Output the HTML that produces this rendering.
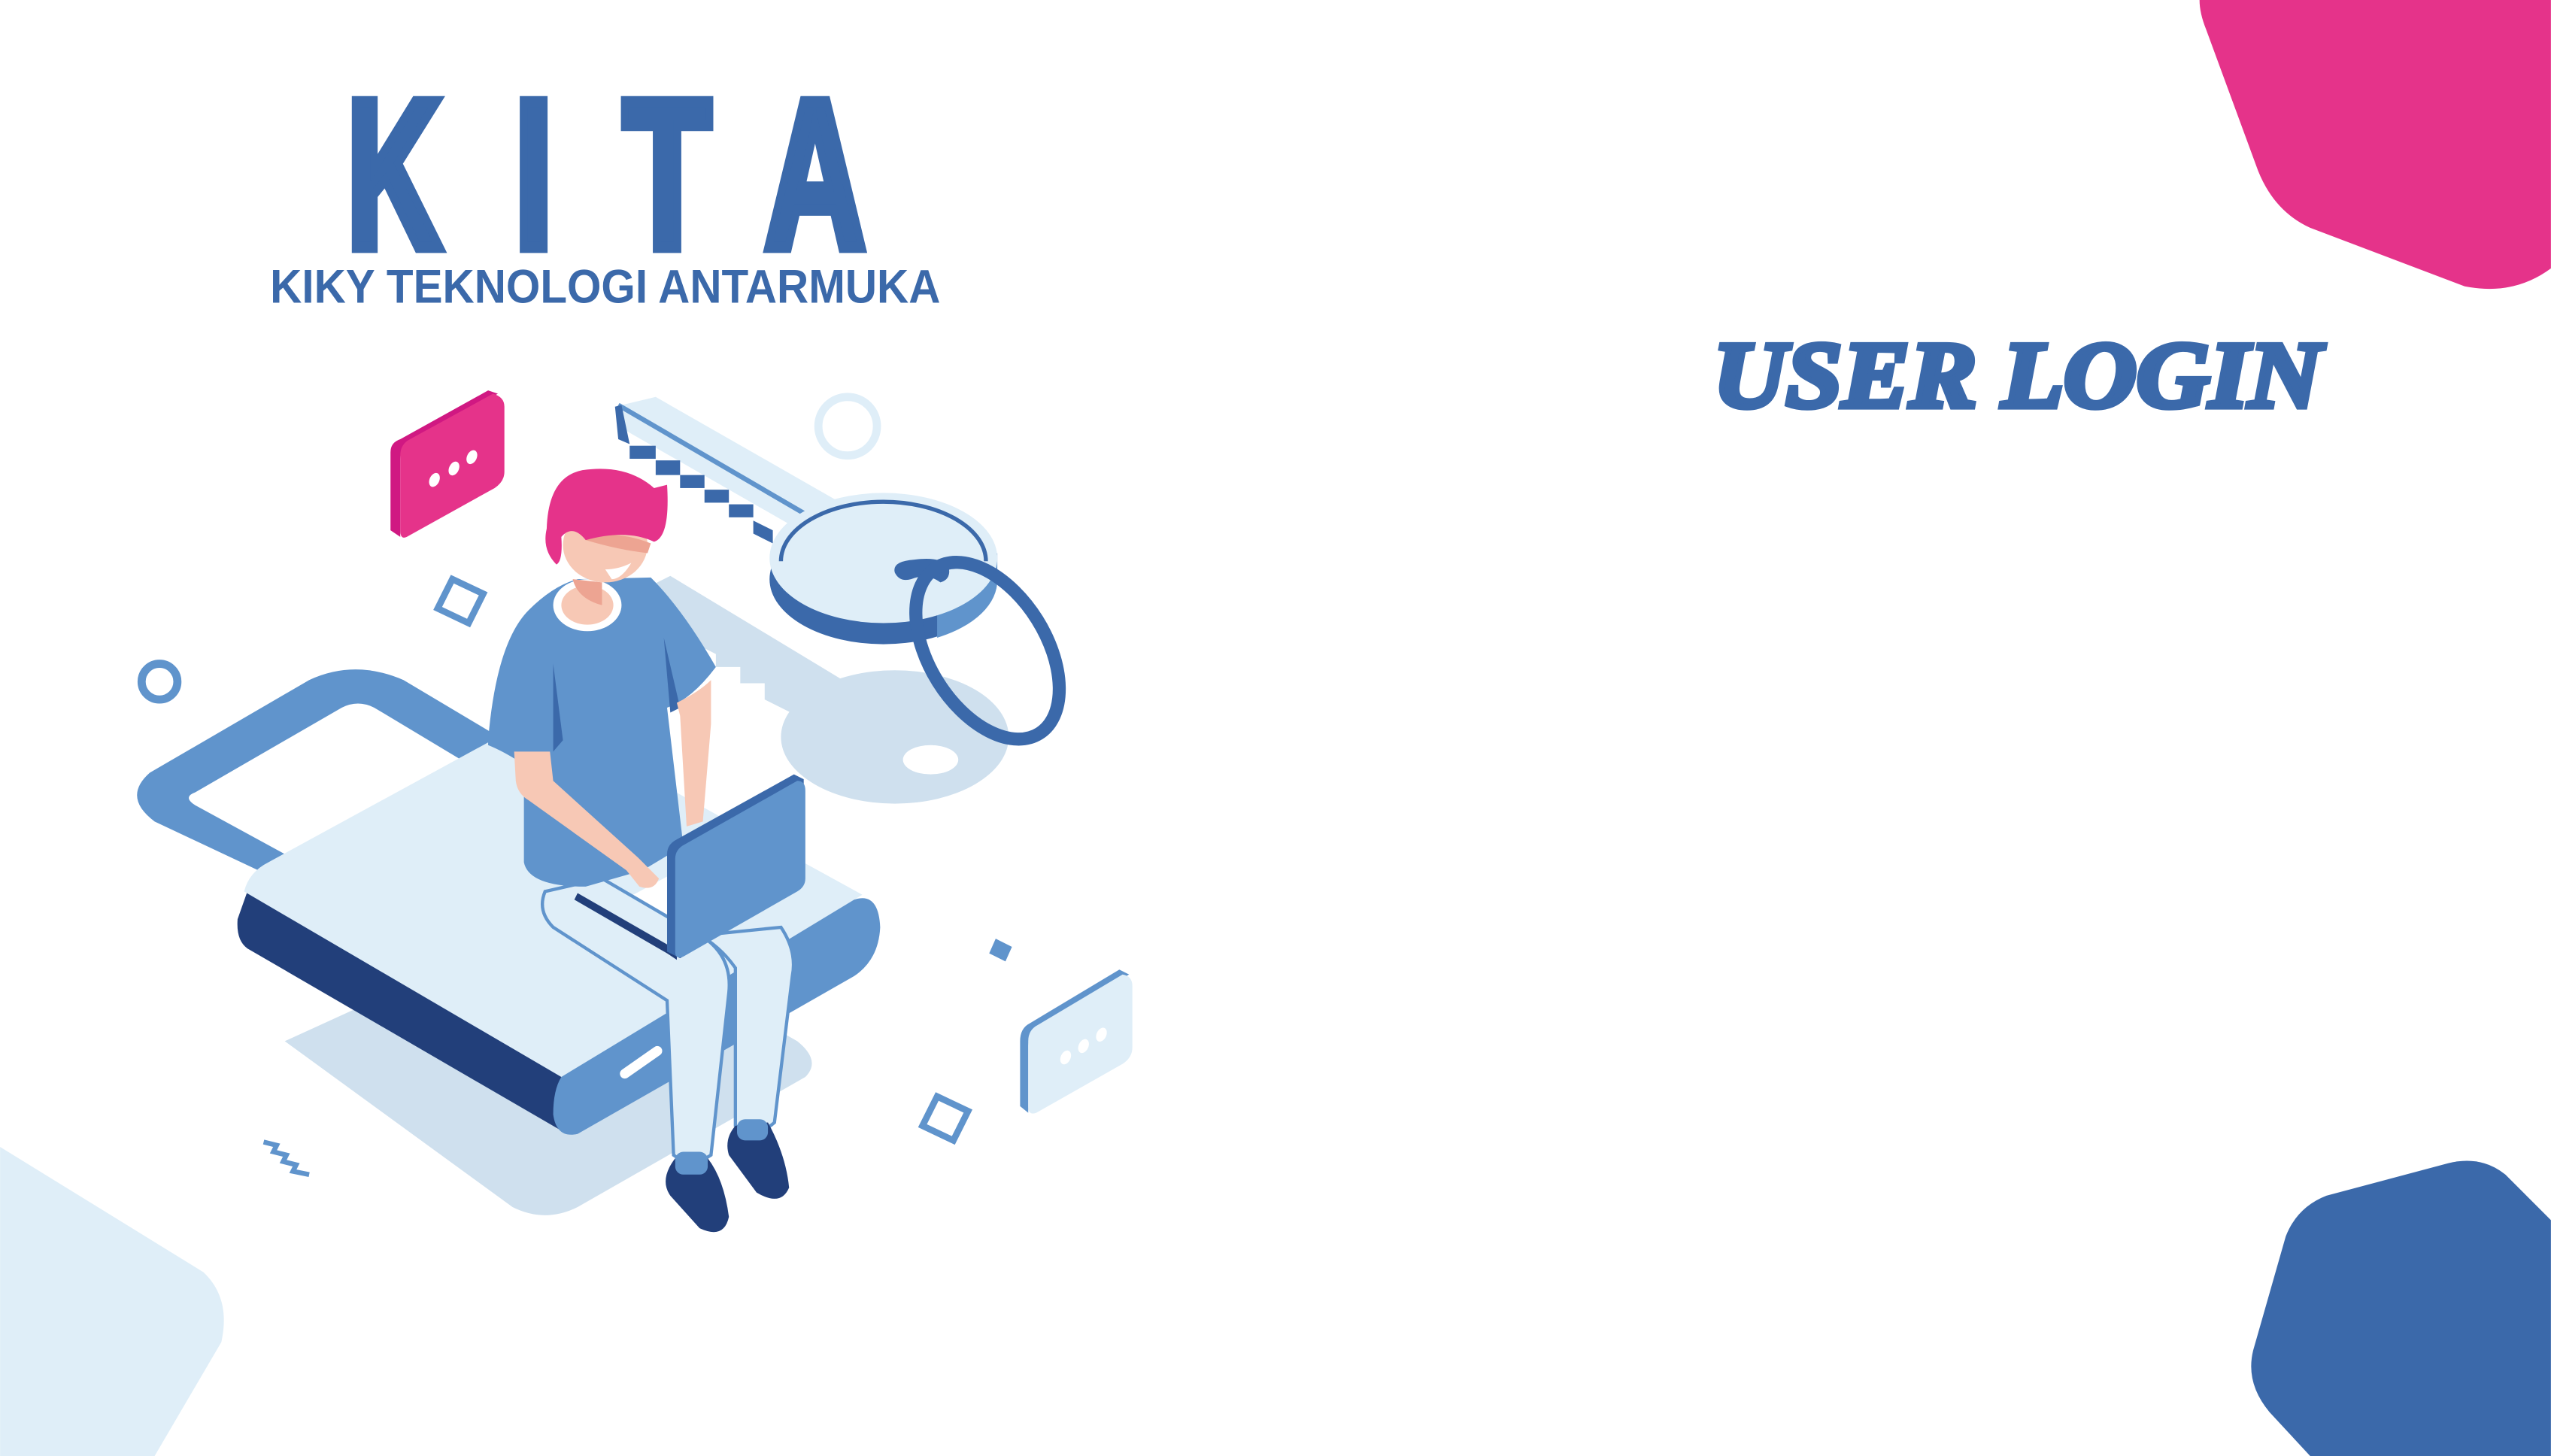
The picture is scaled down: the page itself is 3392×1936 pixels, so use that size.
<!DOCTYPE html>
<html><head><meta charset="utf-8"><style>html,body{margin:0;padding:0;background:#fff}svg{display:block}</style></head>
<body>
<svg width="3392" height="1936" viewBox="0 0 1568 895" xmlns="http://www.w3.org/2000/svg">
<rect width="1568" height="895" fill="#fff"/>
<path d="M1352,0 L1568,0 L1568,165 Q1545,182 1515,176 L1420,140 Q1398,130 1388,105 L1356,18 Q1352,8 1352,0 Z" fill="#e5338a"/>
<path d="M1568,750 L1540,722 Q1525,710 1505,715 L1430,735 Q1412,742 1405,760 L1385,830 Q1380,850 1395,868 L1420,895 L1568,895 Z" fill="#3b69aa"/>
<path d="M0,705 L125,782 Q142,798 136,825 L95,895 L0,895 Z" fill="#dfeef8"/>

<g font-family="'Liberation Sans', sans-serif" font-weight="bold" fill="#3b69aa" stroke="#3b69aa" stroke-width="7" stroke-linejoin="miter">
<text x="213" y="152" font-size="130" textLength="58" lengthAdjust="spacingAndGlyphs">K</text>
<text x="316" y="152" font-size="130" textLength="24" lengthAdjust="spacingAndGlyphs">I</text>
<text x="383" y="152" font-size="130" textLength="54" lengthAdjust="spacingAndGlyphs">T</text>
<text x="470" y="152" font-size="130" textLength="62" lengthAdjust="spacingAndGlyphs">A</text>
</g>
<text x="166" y="186" font-family="'Liberation Sans', sans-serif" font-weight="bold" fill="#3b69aa" font-size="29" textLength="412" lengthAdjust="spacingAndGlyphs">KIKY TEKNOLOGI ANTARMUKA</text>
<text x="1053" y="250" font-family="'Liberation Serif', serif" font-weight="bold" font-style="italic" font-size="58" fill="#3b69aa" stroke="#3b69aa" stroke-width="3.5" textLength="374" lengthAdjust="spacingAndGlyphs">USER LOGIN</text>

<path d="M175,640 L315,742 Q335,752 355,742 L495,662 Q505,652 490,640 L350,560 Z" fill="#cfe0ee"/>
<polygon points="400,360 412,354 518,418 490,440 470,430 470,420 455,420 455,410 440,410 440,402 400,382" fill="#cfe0ee"/>
<ellipse cx="550" cy="453" rx="70" ry="41" fill="#cfe0ee"/>
<ellipse cx="572" cy="467" rx="17" ry="9" fill="#fff"/>

<circle cx="98" cy="419" r="11" fill="none" stroke="#6094cc" stroke-width="5"/>
<circle cx="521" cy="262" r="18" fill="none" stroke="#dfeef8" stroke-width="5"/>
<polygon points="278,356 297,365 288,383 269,374" fill="none" stroke="#6094cc" stroke-width="4"/>
<polygon points="576,674 595,683 586,701 567,692" fill="none" stroke="#6094cc" stroke-width="4"/>
<polygon points="612,577 622,582 618,591 608,586" fill="#6094cc"/>
<polyline points="162,702 170,704 168,708 176,710 174,714 182,716 180,720 190,722" fill="none" stroke="#6094cc" stroke-width="3"/>

<path d="M240,278 Q240,272 246,270 L300,240 L306,242 L252,272 Q246,275 246,282 L246,330 L240,326 Z" fill="#d01882"/>
<path d="M246,280 Q246,273 252,270 L303,242 Q310,244 310,250 L310,290 Q310,296 304,300 L250,330 Q246,332 246,326 Z" fill="#e5338a"/>
<ellipse cx="267" cy="295" rx="3" ry="4.5" fill="#fff" transform="rotate(25 267 295)"/>
<ellipse cx="279" cy="288" rx="3" ry="4.5" fill="#fff" transform="rotate(25 279 288)"/>
<ellipse cx="290" cy="281" rx="3" ry="4.5" fill="#fff" transform="rotate(25 290 281)"/>

<path d="M627,640 Q627,632 633,629 L688,596 L694,599 L638,632 Q632,636 632,643 L632,684 L627,680 Z" fill="#6094cc"/>
<path d="M632,640 Q632,633 638,630 L690,599 Q696,600 696,606 L696,644 Q696,650 690,654 L637,684 Q632,686 632,680 Z" fill="#dfeef8"/>
<ellipse cx="655" cy="650" rx="3" ry="4.5" fill="#fff" transform="rotate(25 655 650)"/>
<ellipse cx="666" cy="643" rx="3" ry="4.5" fill="#fff" transform="rotate(25 666 643)"/>
<ellipse cx="677" cy="636" rx="3" ry="4.5" fill="#fff" transform="rotate(25 677 636)"/>

<polygon points="378,250 403,244 515,308 490,325 380,262" fill="#dfeef8"/>
<line x1="380" y1="249" x2="495" y2="316" stroke="#6094cc" stroke-width="3"/>
<polygon points="378,250 382,249 387,273 380,270" fill="#3b69aa"/>
<g fill="#3b69aa">
<rect x="387" y="274" width="16" height="8"/>
<rect x="403" y="283" width="15" height="9"/>
<rect x="418" y="292" width="15" height="8"/>
<rect x="433" y="301" width="15" height="8"/>
<rect x="448" y="310" width="15" height="8"/>
<polygon points="463,320 475,326 475,334 463,328"/>
</g>
<ellipse cx="543" cy="356" rx="70" ry="40" fill="#3b69aa"/>
<path d="M576,356 A70,40 0 0 0 613,340 L613,356 A70,40 0 0 1 576,392 Z" fill="#6094cc"/>
<ellipse cx="543" cy="343" rx="70" ry="40" fill="#dfeef8"/>
<path d="M480,345 A62,36 0 0 1 606,345" fill="none" stroke="#3b69aa" stroke-width="2.5"/>
<path d="M550,352 Q548,345 562,344 Q578,342 583,348 Q585,356 578,358 Q570,352 560,356 Q553,358 550,352 Z" fill="#3b69aa"/>
<ellipse cx="607" cy="400" rx="36" ry="60" fill="none" stroke="#3b69aa" stroke-width="8" transform="rotate(-32 607 400)"/>

<path d="M92,475 L190,418 Q218,405 248,418 L310,455 L310,520 L180,545 L95,505 Q75,490 92,475 Z" fill="#6094cc"/>
<path d="M120,487 L210,435 Q220,430 230,435 L300,477 L175,525 L120,495 Q112,490 120,487 Z" fill="#fff"/>

<path d="M152,548 L345,660 L345,695 L152,583 Q145,578 146,565 Z" fill="#223f7a"/>
<path d="M165,530 L330,440 L530,550 L345,662 L150,548 Q153,536 165,530 Z" fill="#dfeef8"/>
<path d="M345,662 L525,553 Q540,548 541,570 Q540,590 525,600 L355,697 Q342,700 340,685 Q340,670 345,662 Z" fill="#6094cc"/>
<line x1="384" y1="660" x2="404" y2="646" stroke="#fff" stroke-width="6" stroke-linecap="round"/>
<path d="M380,555 L430,528 L470,550 L420,578 Z" fill="#fff"/>

<path d="M335,548 Q330,560 340,570 L410,615 L414,710 Q425,718 437,710 L448,610 Q450,590 435,578 L370,540 Z" fill="#dfeef8" stroke="#6094cc" stroke-width="2"/>
<path d="M430,575 L480,570 Q490,585 487,600 L476,690 Q465,700 452,692 L452,595 Q445,585 435,578 Z" fill="#dfeef8" stroke="#6094cc" stroke-width="2"/>
<path d="M415,712 Q405,725 412,735 L430,755 Q445,762 448,748 Q445,725 435,712 Z" fill="#223f7a"/>
<path d="M452,692 Q445,700 448,710 L465,733 Q480,742 485,730 Q483,710 472,690 Z" fill="#223f7a"/>
<rect x="415" y="708" width="20" height="14" rx="5" fill="#6094cc"/>
<rect x="453" y="688" width="19" height="13" rx="5" fill="#6094cc"/>

<path d="M300,455 Q305,395 325,375 Q340,360 355,356 L400,355 Q420,375 440,410 Q425,430 410,435 L420,520 L395,535 L360,545 Q325,545 322,530 L322,470 Q310,462 300,458 Z" fill="#6094cc"/>
<path d="M340,408 L346,455 L340,462 Z" fill="#3b69aa"/>
<path d="M408,392 L418,435 L412,438 Z" fill="#3b69aa"/>
<path d="M416,432 Q430,425 437,418 L437,445 L432,505 L422,508 L418,440 Z" fill="#f7c8b5"/>
<path d="M316,462 L338,462 L340,480 L392,527 L405,540 Q402,548 393,545 L385,535 L325,492 Q318,488 317,480 Z" fill="#f7c8b5"/>
<ellipse cx="361" cy="372" rx="21" ry="16" fill="#fff"/>
<ellipse cx="361" cy="372" rx="16" ry="12" fill="#f7c8b5"/>
<path d="M352,356 Q355,368 370,372 L370,358 Z" fill="#eda492"/>
<ellipse cx="372" cy="335" rx="26" ry="23" fill="#f7c8b5"/>
<path d="M360,330 Q380,326 400,334 L398,340 Q380,338 360,332 Z" fill="#eda492"/>
<path d="M336,325 Q337,293 358,289 Q385,285 402,300 L410,298 Q412,330 402,333 Q385,325 360,332 Q352,322 345,330 Q346,345 342,347 Q333,338 336,325 Z" fill="#e5338a"/>
<path d="M372,350 Q380,350 388,346 Q382,356 376,356 Z" fill="#fff"/>

<path d="M353,553 L410,586 L416,590 L416,584 L355,549 Z" fill="#223f7a"/>
<path d="M410,525 Q410,519 416,516 L488,476 L494,479 L494,540 Q494,545 489,548 L418,589 L410,585 Z" fill="#3b69aa"/>
<path d="M415,528 Q415,522 421,519 L490,480 Q495,480 495,486 L495,540 Q495,545 490,548 L420,588 Q415,590 415,585 Z" fill="#6094cc"/>
</svg>
</body></html>
